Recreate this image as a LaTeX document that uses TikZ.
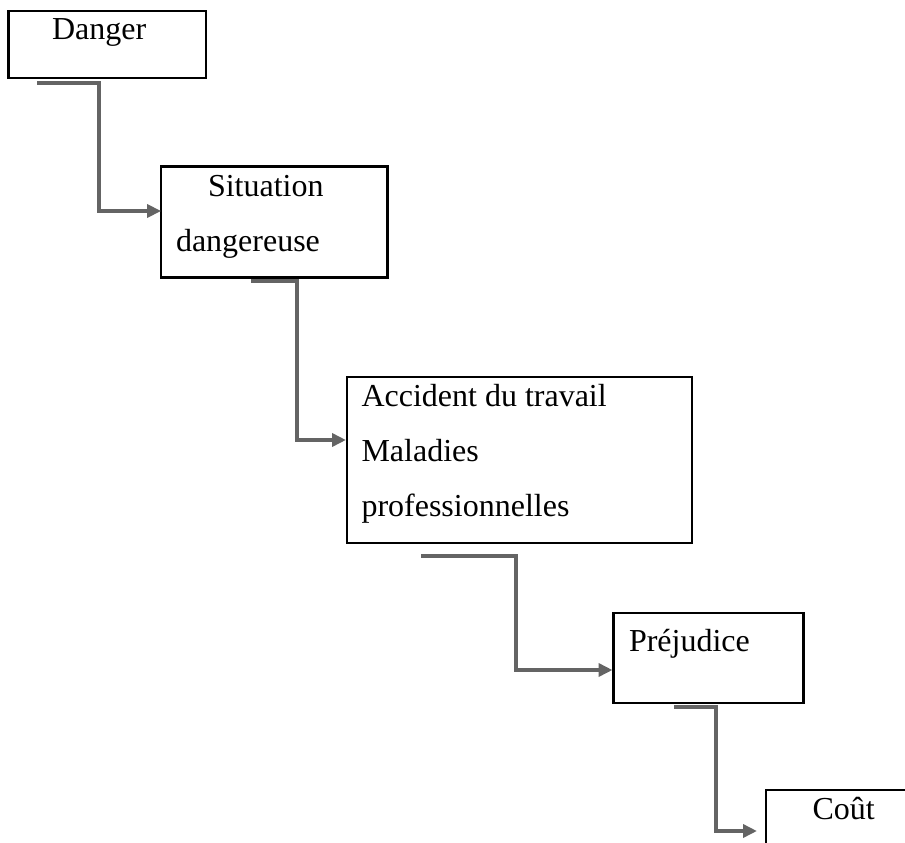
\documentclass[tikz,border=0pt]{standalone}
\usepackage{fontspec}
\setmainfont{Liberation Serif}
\usetikzlibrary{arrows.meta}
\definecolor{connGray}{RGB}{100,100,100}
\begin{document}
\begin{tikzpicture}[x=1pt,y=-1pt,
  box/.style={draw=black, line width=2.6pt, rectangle, outer sep=0pt, inner sep=0pt, anchor=north west},
  lbl/.style={anchor=base west, inner sep=0pt, outer sep=0pt, font=\fontsize{32}{40}\selectfont},
  conn/.style={draw=connGray, line width=4.3pt, -{Triangle[length=14pt,width=13pt]}}]
\useasboundingbox (0,0) rectangle (905,843);
\clip (0,0) rectangle (905,843);

% boxes
\node[box, minimum width=197.3pt, minimum height=67pt] (danger) at (8.7,11) {};
\node[box, minimum width=226.4pt, minimum height=111pt] (situation) at (161.1,166.2) {};
\node[box, minimum width=345pt, minimum height=166pt] (accident) at (347,377) {};
\node[box, minimum width=190pt, minimum height=90pt] (prejudice) at (613.5,613) {};
\node[box, minimum width=200pt, minimum height=120pt] (cout) at (766,790) {};

% labels
\node[lbl] (tDanger) at (52,39.5) {Danger};
\node[lbl] (tSit1) at (208,196.7) {Situation};
\node[lbl] (tSit2) at (176,251.7) {dangereuse};
\node[lbl] (tAcc1) at (361.5,406.7) {Accident du travail};
\node[lbl] (tAcc2) at (361.5,461.7) {Maladies};
\node[lbl] (tAcc3) at (361.5,516.7) {professionnelles};
\node[lbl] (tPrej) at (629,651.7) {Préjudice};
\node[lbl] (tCout) at (812.5,819.3) {Coût};

% connector start points under each box
\coordinate (s1) at (37,83);
\coordinate (s2) at (251,281);
\coordinate (s3) at (421,556);
\coordinate (s4) at (674,707);

% elbows
\coordinate (k1) at (99,211);
\coordinate (k2) at (297,440);
\coordinate (k3) at (516,670);
\coordinate (k4) at (716,831);

\draw[conn] (s1) -| (k1) -- (situation.west |- k1);
\draw[conn] (s2) -| (k2) -- ([xshift=-1pt]accident.west |- k2);
\draw[conn] (s3) -| (k3) -- ([xshift=-1pt]prejudice.west |- k3);
\draw[conn] (s4) -| (k4) -- ([xshift=-9pt]cout.west |- k4);
\end{tikzpicture}
\end{document}
